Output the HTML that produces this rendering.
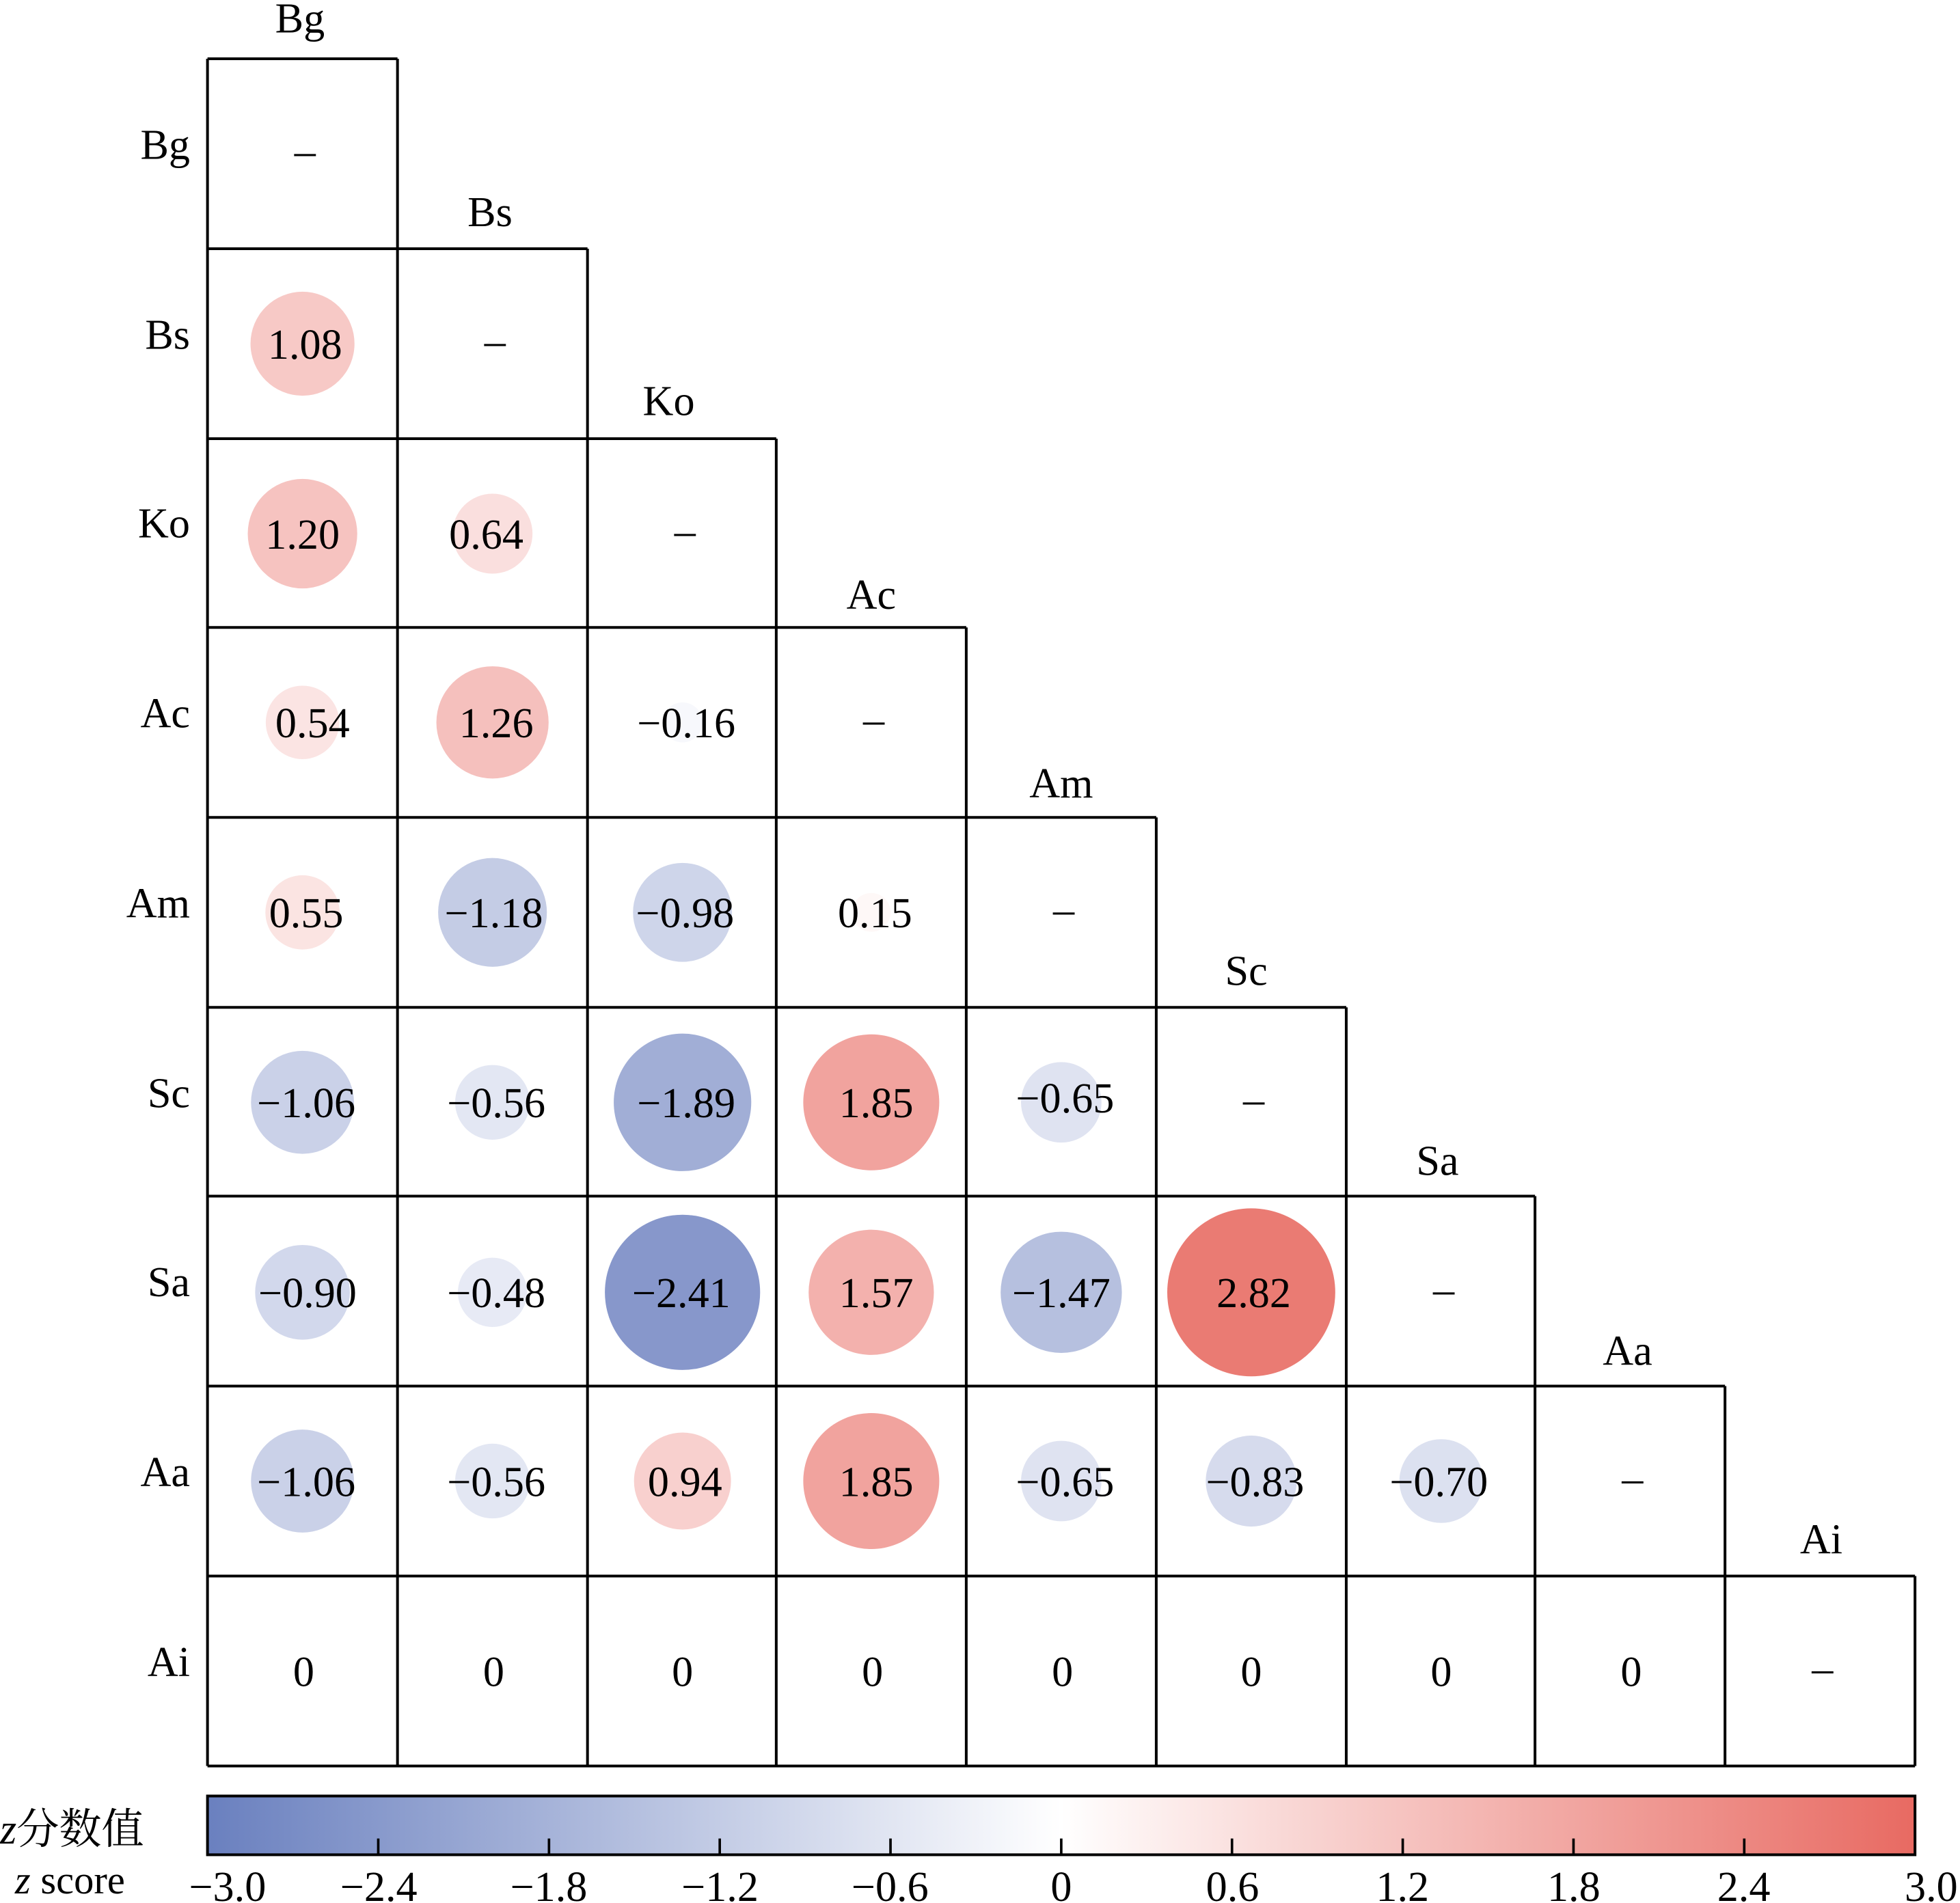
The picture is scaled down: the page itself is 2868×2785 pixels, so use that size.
<!DOCTYPE html>
<html><head><style>html,body{margin:0;padding:0;background:#fff}svg{display:block}</style></head>
<body>
<svg width="2868" height="2785" viewBox="0 0 1568 1522.6" preserveAspectRatio="none" xmlns="http://www.w3.org/2000/svg" font-family="'Liberation Serif','Noto Serif CJK SC',serif">
<defs>
<linearGradient id="cb" x1="0" x2="1" y1="0" y2="0">
<stop offset="0" stop-color="#6a80bf"/>
<stop offset="0.5" stop-color="#ffffff"/>
<stop offset="1" stop-color="#e86a62"/>
</linearGradient>
</defs>
<g stroke="none">
<circle cx="242" cy="275" r="41.6" fill="rgb(247,201,198)"/>
<circle cx="242" cy="427" r="43.8" fill="rgb(246,195,192)"/>
<circle cx="394" cy="427" r="32" fill="rgb(250,223,222)"/>
<circle cx="242" cy="578" r="29.4" fill="rgb(251,228,227)"/>
<circle cx="394" cy="578" r="44.9" fill="rgb(245,192,189)"/>
<circle cx="546" cy="578" r="16" fill="rgb(247,248,252)"/>
<circle cx="242" cy="730" r="29.7" fill="rgb(251,228,226)"/>
<circle cx="394" cy="730" r="43.5" fill="rgb(196,204,229)"/>
<circle cx="546" cy="730" r="39.6" fill="rgb(206,213,234)"/>
<circle cx="697" cy="730" r="15.5" fill="rgb(254,248,247)"/>
<circle cx="242" cy="882" r="41.2" fill="rgb(202,209,232)"/>
<circle cx="394" cy="882" r="29.9" fill="rgb(227,231,243)"/>
<circle cx="546" cy="882" r="55" fill="rgb(161,174,214)"/>
<circle cx="697" cy="882" r="54.4" fill="rgb(241,163,158)"/>
<circle cx="849" cy="882" r="32.2" fill="rgb(223,227,241)"/>
<circle cx="242" cy="1034" r="37.9" fill="rgb(210,216,236)"/>
<circle cx="394" cy="1034" r="27.7" fill="rgb(231,234,245)"/>
<circle cx="546" cy="1034" r="62.1" fill="rgb(135,151,203)"/>
<circle cx="697" cy="1034" r="50.1" fill="rgb(243,177,173)"/>
<circle cx="849" cy="1034" r="48.5" fill="rgb(182,192,223)"/>
<circle cx="1001" cy="1034" r="67.2" fill="rgb(234,123,115)"/>
<circle cx="242" cy="1185" r="41.2" fill="rgb(202,209,232)"/>
<circle cx="394" cy="1185" r="29.9" fill="rgb(227,231,243)"/>
<circle cx="546" cy="1185" r="38.8" fill="rgb(248,208,206)"/>
<circle cx="697" cy="1185" r="54.4" fill="rgb(241,163,158)"/>
<circle cx="849" cy="1185" r="32.2" fill="rgb(223,227,241)"/>
<circle cx="1001" cy="1185" r="36.4" fill="rgb(214,219,237)"/>
<circle cx="1153" cy="1185" r="33.5" fill="rgb(220,225,240)"/>
</g>
<g stroke="#000" stroke-width="2.2" fill="none">
<line x1="166" y1="47" x2="166" y2="1413"/>
<line x1="166" y1="1413" x2="1532" y2="1413"/>
<line x1="166" y1="47" x2="318" y2="47"/>
<line x1="318" y1="47" x2="318" y2="1413"/>
<line x1="166" y1="199" x2="470" y2="199"/>
<line x1="470" y1="199" x2="470" y2="1413"/>
<line x1="166" y1="351" x2="621" y2="351"/>
<line x1="621" y1="351" x2="621" y2="1413"/>
<line x1="166" y1="502" x2="773" y2="502"/>
<line x1="773" y1="502" x2="773" y2="1413"/>
<line x1="166" y1="654" x2="925" y2="654"/>
<line x1="925" y1="654" x2="925" y2="1413"/>
<line x1="166" y1="806" x2="1077" y2="806"/>
<line x1="1077" y1="806" x2="1077" y2="1413"/>
<line x1="166" y1="957" x2="1228" y2="957"/>
<line x1="1228" y1="957" x2="1228" y2="1413"/>
<line x1="166" y1="1109" x2="1380" y2="1109"/>
<line x1="1380" y1="1109" x2="1380" y2="1413"/>
<line x1="166" y1="1261" x2="1532" y2="1261"/>
<line x1="1532" y1="1261" x2="1532" y2="1413"/>
</g>
<g font-size="34" text-anchor="middle" fill="#000">
<text x="240" y="26">Bg</text>
<text x="392" y="181">Bs</text>
<text x="535" y="332">Ko</text>
<text x="697" y="487">Ac</text>
<text x="849" y="638">Am</text>
<text x="997" y="788">Sc</text>
<text x="1150" y="940">Sa</text>
<text x="1302" y="1092">Aa</text>
<text x="1457" y="1243">Ai</text>
</g>
<g font-size="34" text-anchor="end" fill="#000">
<text x="152" y="127">Bg</text>
<text x="152" y="279">Bs</text>
<text x="152" y="430">Ko</text>
<text x="152" y="582">Ac</text>
<text x="152" y="734">Am</text>
<text x="152" y="886">Sc</text>
<text x="152" y="1037">Sa</text>
<text x="152" y="1189">Aa</text>
<text x="152" y="1341">Ai</text>
</g>
<g font-size="34" text-anchor="middle" fill="#000">
<text x="244" y="132">–</text><text x="396" y="284">–</text><text x="548" y="436">–</text><text x="699" y="587">–</text><text x="851" y="739">–</text><text x="1003" y="891">–</text><text x="1155" y="1043">–</text><text x="1306" y="1194">–</text><text x="1458" y="1346">–</text>
<text x="244" y="287">1.08</text>
<text x="242" y="439">1.20</text><text x="389" y="439">0.64</text>
<text x="250" y="590">0.54</text><text x="397" y="590">1.26</text><text x="549" y="590">−0.16</text>
<text x="245" y="742">0.55</text><text x="395" y="742">−1.18</text><text x="548" y="742">−0.98</text><text x="700" y="742">0.15</text>
<text x="245" y="894">−1.06</text><text x="397" y="894">−0.56</text><text x="549" y="894">−1.89</text><text x="701" y="894">1.85</text><text x="852" y="890">−0.65</text>
<text x="246" y="1046">−0.90</text><text x="397" y="1046">−0.48</text><text x="545" y="1046">−2.41</text><text x="701" y="1046">1.57</text><text x="849" y="1046">−1.47</text><text x="1003" y="1046">2.82</text>
<text x="245" y="1197">−1.06</text><text x="397" y="1197">−0.56</text><text x="548" y="1197">0.94</text><text x="701" y="1197">1.85</text><text x="852" y="1197">−0.65</text><text x="1004" y="1197">−0.83</text><text x="1151" y="1197">−0.70</text>
<text x="243" y="1349">0</text><text x="395" y="1349">0</text><text x="546" y="1349">0</text><text x="698" y="1349">0</text><text x="850" y="1349">0</text><text x="1001" y="1349">0</text><text x="1153" y="1349">0</text><text x="1305" y="1349">0</text>
</g>
<rect x="166" y="1437" width="1366" height="47" fill="url(#cb)" stroke="#000" stroke-width="2.2"/>
<g stroke="#000" stroke-width="2">
<line x1="302.6" y1="1484" x2="302.6" y2="1471"/><line x1="439.2" y1="1484" x2="439.2" y2="1471"/><line x1="575.8" y1="1484" x2="575.8" y2="1471"/><line x1="712.4" y1="1484" x2="712.4" y2="1471"/><line x1="849" y1="1484" x2="849" y2="1471"/><line x1="985.6" y1="1484" x2="985.6" y2="1471"/><line x1="1122.2" y1="1484" x2="1122.2" y2="1471"/><line x1="1258.8" y1="1484" x2="1258.8" y2="1471"/><line x1="1395.4" y1="1484" x2="1395.4" y2="1471"/>
</g>
<g font-size="34" text-anchor="middle" fill="#000">
<text x="182" y="1521">−3.0</text><text x="303" y="1521">−2.4</text><text x="439" y="1521">−1.8</text><text x="576" y="1521">−1.2</text><text x="712" y="1521">−0.6</text><text x="849" y="1521">0</text><text x="986" y="1521">0.6</text><text x="1122" y="1521">1.2</text><text x="1259" y="1521">1.8</text><text x="1395" y="1521">2.4</text><text x="1545" y="1521">3.0</text>
</g>
<text x="0" y="1475" font-size="34" fill="#000"><tspan font-style="italic">z</tspan>分数值</text>
<text x="12" y="1515" font-size="32" fill="#000"><tspan font-style="italic">z</tspan> score</text>
</svg>
</body></html>
